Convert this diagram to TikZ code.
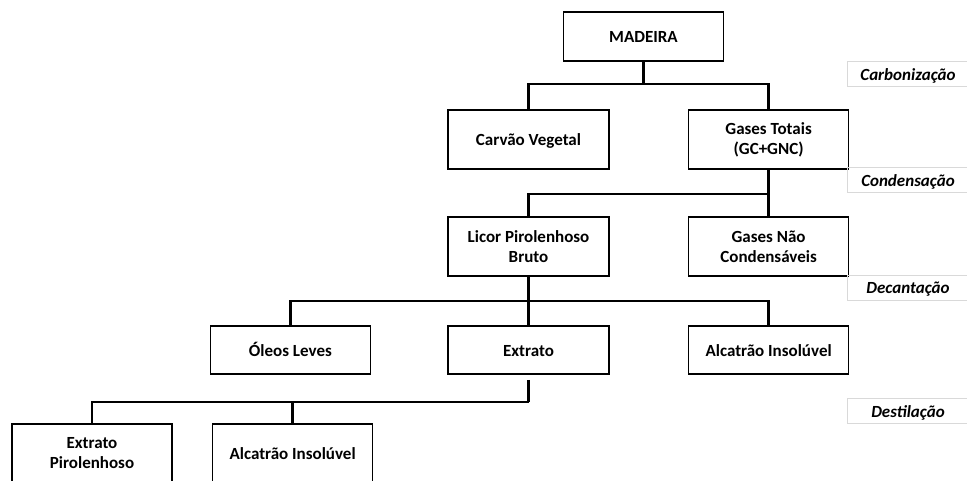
\documentclass[tikz,border=0pt]{standalone}
\usepackage{fontspec}
\setmainfont{Carlito}
\usetikzlibrary{positioning}

\begin{document}
\begin{tikzpicture}[x=1pt,y=-1pt]
  \tikzstyle{box}=[draw,line width=1.6pt,align=center,inner sep=0pt,minimum width=160pt,minimum height=49pt,font=\bfseries\fontsize{17}{20}\selectfont]
  \tikzstyle{tall}=[minimum height=59pt]
  \tikzstyle{linha}=[text height=16pt,text depth=4pt]
  \tikzstyle{etapa}=[draw=gray!30,line width=0.6pt,inner sep=0pt,minimum width=122pt,minimum height=25pt,text height=16pt,text depth=4pt,font=\bfseries\itshape\fontsize{17}{20}\selectfont]
  \tikzstyle{link}=[line width=2.4pt]
  \path[use as bounding box,fill=white] (0,0) rectangle (967,480);
  % arvore
  \node[box,linha] (madeira) at (643.5,36.5) {MADEIRA};
  \node[box,linha,tall,minimum width=161pt] (carvao) at (528.5,139.5) {Carvão Vegetal};
  \node[box,tall,right=78pt of carvao] (gases) {Gases Totais\\(GC+GNC)};
  \node[box,tall,minimum width=161pt] (licor) at (528.5,246.5) {Licor Pirolenhoso\\Bruto};
  \node[box,tall,right=78pt of licor] (gnc) {Gases Não\\Condensáveis};
  \node[box,linha,minimum width=161pt,minimum height=48pt] (extrato) at (528.5,350) {Extrato};
  \node[box,linha,minimum height=48pt,left=76pt of extrato] (oleos) {Óleos Leves};
  \node[box,linha,minimum height=48pt,right=78pt of extrato] (alcatrao) {Alcatrão Insolúvel};
  \node[box,tall] (extpir) at (92,453.5) {Extrato\\Pirolenhoso};
  \node[box,linha,tall,right=39pt of extpir] (alcatrao2) {Alcatrão Insolúvel};
  % etapas
  \node[etapa] (carb) at (908,74) {Carbonização};
  \node[etapa] (cond) at (908,180) {Condensação};
  \node[etapa] (decan) at (908,287.5) {Decantação};
  \node[etapa] (dest) at (908,411) {Destilação};
  % ligacoes
  \draw[link] (madeira.south) -- ++(0,22) coordinate (c1);
  \draw[link] (carvao.north) |- (c1) -| (gases.north);
  \draw[link] (gases.south) -- ++(0,24) coordinate (c2);
  \draw[link] (licor.north) |- (c2);
  \draw[link] (c2) -- (gnc.north);
  \draw[link] (licor.south) -- (extrato.north);
  \path (licor.south) ++(0,24) coordinate (c3);
  \draw[link] (oleos.north) |- (c3) -| (alcatrao.north);
  \draw[link] ([yshift=-5pt]extrato.south) -- ++(0,22) coordinate (c4);
  \draw[link] (extpir.north) |- (c4);
  \draw[link] (alcatrao2.north) -- (alcatrao2.north |- c4);
\end{tikzpicture}
\end{document}
